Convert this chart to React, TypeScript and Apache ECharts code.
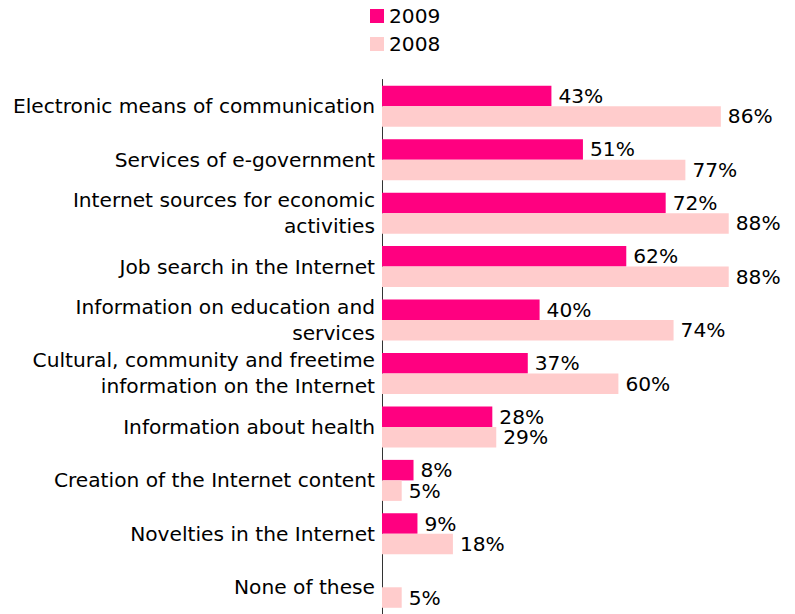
import React, { useEffect, useRef } from "react";
import * as echarts from "echarts";

const categories = [
  "Electronic means of communication",
  "Services of e-government",
  "Internet sources for economic\nactivities",
  "Job search in the Internet",
  "Information on education and\nservices",
  "Cultural, community and freetime\ninformation on the Internet",
  "Information about health",
  "Creation of the Internet content",
  "Novelties in the Internet",
  "None of these",
];
const values2009: (number | null)[] = [43, 51, 72, 62, 40, 37, 28, 8, 9, null];
const values2008: number[] = [86, 77, 88, 88, 74, 60, 29, 5, 18, 5];

export default function App() {
  const ref = useRef<HTMLDivElement>(null);
  useEffect(() => {
    if (!ref.current) return;
    const chart = echarts.init(ref.current, null, { renderer: "svg" });
    const font = "DejaVu Sans, Verdana, sans-serif";
    const fs = 20.2;
    const valueLabel = {
      show: true,
      position: "right",
      distance: 7,
      formatter: "{c}%",
      fontFamily: font,
      fontSize: fs,
      lineHeight: 19,
      color: "#000",
    };
    chart.setOption({
      animation: false,
      textStyle: { fontFamily: font },
      legend: {
        orient: "vertical",
        left: 365,
        top: 1,
        itemWidth: 14,
        itemHeight: 14,
        itemGap: 8,
        icon: "rect",
        textStyle: { fontFamily: font, fontSize: fs, color: "#000" },
        data: ["2009", "2008"],
      },
      grid: { left: 382, top: 79.5, width: 394, height: 540, containLabel: false },
      xAxis: {
        type: "value",
        min: 0,
        max: 100,
        show: false,
      },
      yAxis: {
        type: "category",
        inverse: true,
        data: categories,
        axisLine: { show: true, lineStyle: { color: "#333", width: 1 } },
        axisTick: { show: false },
        axisLabel: {
          fontFamily: font,
          fontSize: fs,
          color: "#000",
          margin: 7,
          lineHeight: 26,
          align: "right",
        },
      },
      series: [
        {
          name: "2009",
          type: "bar",
          data: values2009,
          barWidth: 20.5,
          barGap: "0%",
          itemStyle: { color: "#FF0080" },
          label: valueLabel,
        },
        {
          name: "2008",
          type: "bar",
          data: values2008,
          barWidth: 20.5,
          barGap: "0%",
          itemStyle: { color: "#FFCCCC" },
          label: valueLabel,
        },
      ],
    });
    return () => chart.dispose();
  }, []);
  return (
    <div
      ref={ref}
      style={{ position: "absolute", left: 0, top: 0, width: 795, height: 614 }}
    />
  );
}
